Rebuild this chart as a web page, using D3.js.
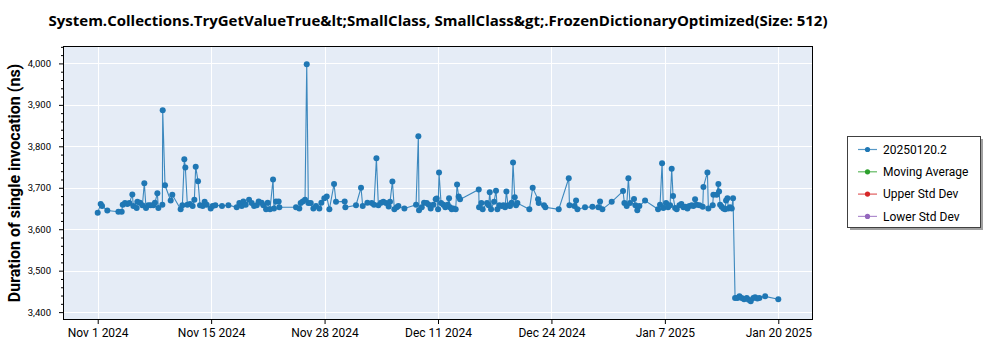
<!DOCTYPE html>
<html>
<head>
<meta charset="utf-8">
<script src="https://cdn.jsdelivr.net/npm/d3@7"></script>
<style>
  body { margin: 0; background: #ffffff; }
  text { font-family: Roboto, "Noto Sans", "DejaVu Sans", sans-serif; }
  text.title { font-family: "Open Sans", "Noto Sans", sans-serif; }
</style>
</head>
<body>
<svg id="chart" width="1000" height="350"></svg>
<script>
// ---------------- data ----------------
const chartTitle = "System.Collections.TryGetValueTrue&lt;SmallClass, SmallClass&gt;.FrozenDictionaryOptimized(Size: 512)";
const yAxisTitle = "Duration of single invocation (ns)";
const seriesNames = ["20250120.2", "Moving Average", "Upper Std Dev", "Lower Std Dev"];
const seriesColors = ["#1f77b4", "#2ca02c", "#d62728", "#9467bd"];

const startDate = "2024-11-01T18:00:00";
// days elapsed since startDate for each run
const dayOffsets = [
  0, 0.35, 0.51, 1.13, 2.43, 2.82, 2.94, 3.21, 3.49, 3.72, 4.07, 4.19, 4.58, 4.66, 4.97,
  5.25, 5.48, 5.68, 5.95, 6.23, 6.54, 6.73, 7.01, 7.13, 7.60, 7.64, 7.91, 8.58, 8.77, 9.75,
  9.95, 10.18, 10.30, 10.54, 10.85, 11.16, 11.36, 11.52, 11.79, 12.03, 12.34, 12.57, 12.81, 13.28, 13.51,
  13.83, 14.61, 15.36, 16.34, 16.65, 16.93, 17.12, 17.40, 17.79, 18.10, 18.38, 18.69, 18.92, 19.27, 19.47,
  19.79, 19.98, 20.25, 20.61, 20.72, 20.96, 21.27, 21.35,
  23.31, 23.70, 23.86, 24.10, 24.37, 24.57, 24.76, 25.04, 25.35, 25.66, 26.05, 26.29, 26.64, 26.92, 27.23,
  27.78, 28.01, 29.03, 29.11, 30.36, 30.95, 31.15, 31.70, 32.21, 32.48, 32.76, 32.99, 33.31, 33.58, 33.89,
  34.20, 34.36, 34.64, 34.87, 35.15, 35.34, 36.05, 37.42, 37.69, 37.77, 38.09, 38.36, 38.67, 38.91, 39.14,
  39.46, 39.73, 39.85, 40.01, 40.12, 40.36, 40.63, 40.86, 41.14, 41.30, 41.41, 41.61, 41.80, 42.08, 42.24,
  42.43, 42.59, 44.79, 44.83, 45.10, 45.25, 45.76, 45.96, 46.08, 46.24, 46.59, 46.82, 46.98, 47.21, 47.45,
  47.68, 47.88, 48.04, 48.23, 48.47, 48.66, 48.82, 49.02, 49.17, 49.33, 50.74, 51.13, 51.76, 51.84, 52.46,
  52.62, 54.19,
  55.37, 55.45, 56.03, 56.23, 56.39, 57.28, 58.15, 58.85, 59.05, 59.32, 60.42, 61.75, 61.91, 62.18, 62.38,
  62.57, 63.04, 63.20, 63.43, 63.67, 64.34, 65.87, 66.10, 66.34, 66.49, 66.81, 67.04, 67.28, 67.47, 67.63,
  67.87, 68.06, 68.38, 68.61, 68.85, 69.08, 69.32, 69.55, 69.83, 70.02, 70.22, 70.41, 70.73, 71.12, 71.20,
  71.67, 71.78, 72.29, 72.37, 72.76, 72.96, 73.04, 73.16, 73.35, 73.55, 73.74, 73.86, 74.02, 74.13, 74.33,
  74.53, 74.68, 74.92, 75.19, 75.43, 75.70, 75.98, 76.29, 76.52, 76.76, 77.07, 77.27, 77.54, 77.78, 78.45,
  80.0
];
// duration of single invocation (ns)
const durations = [
  3640, 3661, 3656, 3645, 3642, 3642, 3659, 3663, 3661, 3663, 3684, 3656, 3651, 3666, 3664,
  3658, 3711, 3651, 3658, 3658, 3658, 3664, 3687, 3651, 3659, 3887, 3706, 3669, 3683, 3648,
  3658, 3769, 3749, 3659, 3661, 3656, 3671, 3751, 3716, 3658, 3656, 3666, 3659, 3650, 3656,
  3658, 3656, 3658, 3653, 3663, 3656, 3667, 3659, 3671, 3663, 3656, 3658, 3667, 3664, 3658,
  3648, 3664, 3648, 3720, 3650, 3667, 3667, 3653,
  3653, 3650, 3663, 3667, 3671, 3998, 3663, 3663, 3650, 3656, 3650, 3664, 3675, 3679, 3648,
  3709, 3666, 3667, 3653, 3658, 3700, 3656, 3664, 3663, 3659, 3771, 3658, 3664, 3666, 3663,
  3655, 3666, 3715, 3648, 3653, 3656, 3650, 3659, 3824, 3646, 3653, 3664, 3663, 3659, 3650,
  3659, 3672, 3674, 3648, 3737, 3663, 3659, 3653, 3659, 3675, 3653, 3648, 3650, 3648, 3708,
  3679, 3672, 3696, 3653, 3663, 3648, 3663, 3658, 3689, 3648, 3666, 3693, 3648, 3658, 3656,
  3658, 3653, 3691, 3658, 3656, 3664, 3761, 3677, 3658, 3663, 3648, 3700, 3672, 3663, 3658,
  3653, 3648,
  3723, 3658, 3656, 3669, 3648, 3653, 3654, 3653, 3667, 3648, 3666, 3692, 3663, 3656, 3723,
  3663, 3673, 3658, 3646, 3656, 3669, 3648, 3659, 3759, 3651, 3663, 3653, 3658, 3746, 3680,
  3651, 3648, 3658, 3661, 3653, 3654, 3650, 3656, 3658, 3656, 3672, 3659, 3658, 3654, 3702,
  3737, 3650, 3658, 3683, 3683, 3709, 3691, 3659, 3654, 3650, 3648, 3669, 3675, 3650, 3653,
  3650, 3675, 3434, 3434, 3438, 3434, 3431, 3434, 3430, 3426, 3434, 3436, 3433, 3434, 3438,
  3431
];

const xTickLabels = ["Nov 1 2024", "Nov 15 2024", "Nov 28 2024", "Dec 11 2024", "Dec 24 2024", "Jan 7 2025", "Jan 20 2025"];
const yTickValues = [3400, 3500, 3600, 3700, 3800, 3900, 4000];
const yMinorStep = 20;
const yDomain = [3381, 4042];

// ---------------- layout ----------------
const W = 1000, H = 350;
const plot = { left: 63, right: 813, top: 46, bottom: 320 };
const bg = "#e5ecf6";

const DAY = 86400000;
const t0 = new Date(startDate);
const points = dayOffsets.map((d, i) => ({ date: new Date(t0.getTime() + d * DAY), value: durations[i] }));

const svg = d3.select("#chart");

const tFirst = points[0].date, tLast = points[points.length - 1].date;
const span = tLast - tFirst;
const pad = span * 0.051;
const x = d3.scaleTime()
  .domain([new Date(+tFirst - pad), new Date(+tLast + pad)])
  .range([plot.left, plot.right]);
const y = d3.scaleLinear().domain(yDomain).range([plot.bottom, plot.top]);

const xTickDates = xTickLabels.map((_, i) => new Date(+tFirst + span * i / (xTickLabels.length - 1)));

// plot background
svg.append("rect")
  .attr("x", plot.left).attr("y", plot.top)
  .attr("width", plot.right - plot.left).attr("height", plot.bottom - plot.top)
  .attr("fill", bg);

// grid
const grid = svg.append("g").attr("stroke", "#ffffff").attr("stroke-width", 1);
grid.selectAll("line.gy").data(yTickValues).join("line")
  .attr("x1", plot.left).attr("x2", plot.right)
  .attr("y1", d => Math.round(y(d)) + 0.5).attr("y2", d => Math.round(y(d)) + 0.5);
grid.selectAll("line.gx").data(xTickDates).join("line")
  .attr("y1", plot.top).attr("y2", plot.bottom)
  .attr("x1", d => Math.round(x(d)) + 0.5).attr("x2", d => Math.round(x(d)) + 0.5);

// clip
svg.append("clipPath").attr("id", "clip").append("rect")
  .attr("x", plot.left).attr("y", plot.top)
  .attr("width", plot.right - plot.left).attr("height", plot.bottom - plot.top);

const dataG = svg.append("g").attr("clip-path", "url(#clip)");
const line = d3.line().x(d => x(d.date)).y(d => y(d.value));
dataG.append("path").datum(points)
  .attr("fill", "none").attr("stroke", seriesColors[0])
  .attr("stroke-width", 1.1).attr("stroke-opacity", 0.85)
  .attr("d", line);
dataG.selectAll("circle").data(points).join("circle")
  .attr("cx", d => x(d.date)).attr("cy", d => y(d.value))
  .attr("r", 3).attr("fill", seriesColors[0]);

// axes
const xAxis = d3.axisBottom(x).tickValues(xTickDates)
  .tickFormat((d, i) => xTickLabels[i]).tickSize(4).tickSizeOuter(0).tickPadding(4);
const xg = svg.append("g").attr("transform", `translate(0,${plot.bottom})`).call(xAxis);
xg.selectAll("text").attr("font-size", 12).attr("fill", "#000");
xg.select(".domain").remove();

const yAxis = d3.axisLeft(y).tickValues(yTickValues)
  .tickFormat(d3.format(",")).tickSize(4).tickSizeOuter(0).tickPadding(8);
const yg = svg.append("g").attr("transform", `translate(${plot.left},0)`).call(yAxis);
yg.selectAll("text").attr("font-size", 9.5).attr("fill", "#000");
yg.select(".domain").remove();

const minorVals = d3.range(yTickValues[0] - yMinorStep, yDomain[1], yMinorStep)
  .filter(v => v >= yDomain[0] && !yTickValues.includes(v));
const ygm = svg.append("g").attr("transform", `translate(${plot.left},0)`)
  .call(d3.axisLeft(y).tickValues(minorVals).tickFormat("").tickSize(2).tickSizeOuter(0));
ygm.select(".domain").remove();

// frame
svg.append("rect")
  .attr("x", plot.left + 0.5).attr("y", plot.top + 0.5)
  .attr("width", plot.right - plot.left - 1).attr("height", plot.bottom - plot.top - 1)
  .attr("fill", "none").attr("stroke", "#000").attr("stroke-width", 1);

// title
svg.append("text").attr("class", "title")
  .attr("x", (plot.left + plot.right) / 2).attr("y", 26)
  .attr("text-anchor", "middle").attr("font-size", 15).attr("font-weight", "bold")
  .attr("fill", "#000")
  .text(chartTitle);

// y axis title
svg.append("text")
  .attr("transform", `translate(20,${(plot.top + plot.bottom) / 2}) rotate(-90)`)
  .attr("text-anchor", "middle").attr("font-size", 16).attr("font-weight", "bold")
  .attr("fill", "#000")
  .text(yAxisTitle);

// legend
const lg = { x: 847, y: 136, w: 133, h: 91 };
svg.append("rect").attr("x", lg.x + 3).attr("y", lg.y + 3).attr("width", lg.w).attr("height", lg.h)
  .attr("fill", "#a0a0a0");
svg.append("rect").attr("x", lg.x + 0.5).attr("y", lg.y + 0.5).attr("width", lg.w).attr("height", lg.h)
  .attr("fill", "#ffffff").attr("stroke", "#404040").attr("stroke-width", 1);
const items = svg.append("g").selectAll("g").data(seriesNames).join("g")
  .attr("transform", (d, i) => `translate(${lg.x},${lg.y + 13.5 + i * 22.3})`);
items.append("line").attr("x1", 11).attr("x2", 30).attr("y1", 0).attr("y2", 0)
  .attr("stroke", (d, i) => seriesColors[i]).attr("stroke-width", 1.2).attr("stroke-opacity", 0.75);
items.append("circle").attr("cx", 20.5).attr("cy", 0).attr("r", 2.6)
  .attr("fill", (d, i) => seriesColors[i]);
items.append("text").attr("x", 36).attr("y", 0).attr("dy", "0.35em")
  .attr("font-size", 12).attr("fill", "#000").text(d => d);
</script>
</body>
</html>
